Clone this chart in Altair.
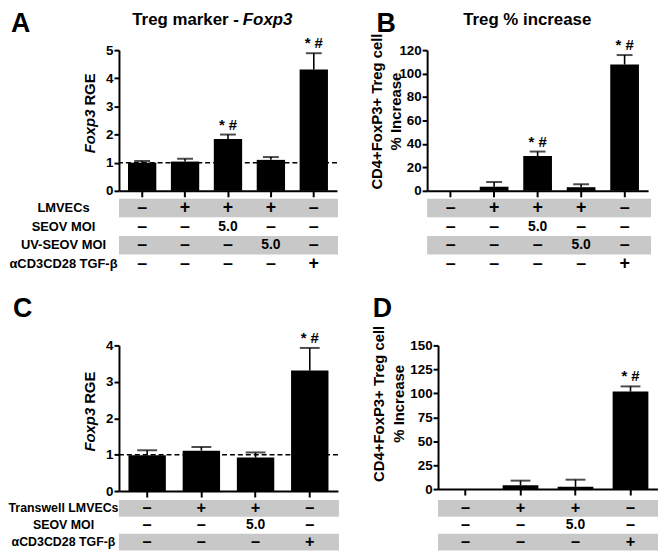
import altair as alt
import pandas as pd

SANS = "Liberation Sans"

# ---------------- data ----------------
A_groups = ["a1", "a2", "a3", "a4", "a5"]
A_mean = [1.00, 1.04, 1.84, 1.10, 4.31]
A_upper = [1.06, 1.14, 2.00, 1.20, 4.89]
A_sig = ["", "", "* #", "", "* #"]
A_rows = ["LMVECs", "SEOV MOI", "UV-SEOV MOI", "αCD3CD28 TGF-β"]
A_cells = [["–", "+", "+", "+", "–"],
           ["–", "–", "5.0", "–", "–"],
           ["–", "–", "–", "5.0", "–"],
           ["–", "–", "–", "–", "+"]]

B_groups = ["b1", "b2", "b3", "b4", "b5"]
B_mean = [0.0, 3.5, 29.6, 3.1, 107.7]
B_upper = [None, 7.5, 33.5, 5.6, 115.8]
B_sig = ["", "", "* #", "", "* #"]

C_groups = ["c1", "c2", "c3", "c4"]
C_mean = [0.98, 1.11, 0.92, 3.31]
C_upper = [1.12, 1.21, 1.06, 3.93]
C_sig = ["", "", "", "* #"]
C_rows = ["Transwell LMVECs", "SEOV MOI", "αCD3CD28 TGF-β"]
C_cells = [["–", "+", "+", "–"],
           ["–", "–", "5.0", "–"],
           ["–", "–", "–", "+"]]

D_groups = ["d1", "d2", "d3", "d4"]
D_mean = [0.0, 4.0, 2.4, 101.8]
D_upper = [None, 8.8, 9.8, 107.2]
D_sig = ["", "", "", "* #"]

ONE = pd.DataFrame({"k": [0]})


def txt(text, x, y, size, style="normal", align="center",
        baseline="top", angle=0, dx=0):
    return alt.Chart(ONE).mark_text(
        text=text, font=SANS, fontSize=size, fontWeight="bold", fontStyle=style,
        align=align, baseline=baseline, angle=angle, dx=dx, color="black"
    ).encode(x=alt.value(x), y=alt.value(y))


def panel(groups, mean, upper, sig, ymax, ystep, W, H, pi, po, cap,
          row_labels, cells, row_range, label_x, label_size, sym_size,
          ref_line, annots, rect_extra):
    df = pd.DataFrame({"g": groups, "m": mean, "u": upper, "s": sig})
    xenc = alt.X("g:N", sort=groups, title=None,
                 scale=alt.Scale(paddingInner=pi, paddingOuter=po),
                 axis=alt.Axis(labels=False, ticks=True, tickSize=6, title=None))
    ys = alt.Scale(domain=[0, ymax], nice=False, zero=True)
    ya = alt.Axis(values=list(range(0, ymax + 1, ystep)), title=None, tickSize=5)
    base = alt.Chart(df)
    bars = base.mark_bar(color="black").encode(
        x=xenc, y=alt.Y("m:Q", scale=ys, axis=ya))
    errs = base.transform_filter("isValid(datum.u)").mark_rule(
        color="black", strokeWidth=1.6).encode(
        x=xenc, y=alt.Y("m:Q", scale=ys, axis=ya), y2="u:Q")
    caps = base.transform_filter("isValid(datum.u)").mark_tick(
        color="black", thickness=2, size=cap).encode(
        x=xenc, y=alt.Y("u:Q", scale=ys, axis=ya))
    sigt = base.transform_filter("datum.s != ''").mark_text(
        font=SANS, fontSize=15, fontWeight="bold", dy=-5, baseline="alphabetic",
        color="black").encode(
        x=xenc, y=alt.Y("u:Q", scale=ys, axis=ya), text="s:N")
    qlayers = [bars, errs, caps, sigt]
    if ref_line is not None:
        qlayers.append(
            alt.Chart(pd.DataFrame({"v": [ref_line]})).mark_rule(
                color="black", strokeWidth=1.5, strokeDash=[5, 3]).encode(
                y=alt.Y("v:Q", scale=ys, axis=ya)))
    quant = alt.layer(*qlayers)

    keys = ["r%d" % i for i in range(len(cells))]
    rs = alt.Scale(type="band", domain=keys, range=row_range,
                   paddingInner=0, paddingOuter=0)
    tdf = pd.DataFrame([{"r": keys[i], "g": groups[j], "t": cells[i][j]}
                        for i in range(len(cells)) for j in range(len(groups))])
    shade = pd.DataFrame({"r": [keys[i] for i in range(0, len(keys), 2)]})
    rects = alt.Chart(shade).mark_rect(color="#c8c8c8").encode(
        y=alt.Y("r:N", scale=rs, axis=None),
        x=alt.value(0), x2=alt.value(W + rect_extra))
    syms = alt.Chart(tdf).transform_filter("datum.t != '5.0'").mark_text(
        font=SANS, fontSize=sym_size, fontWeight="bold", color="black",
        baseline="middle").encode(
        x=xenc, y=alt.Y("r:N", scale=rs, axis=None), text="t:N")
    nums = alt.Chart(tdf).transform_filter("datum.t == '5.0'").mark_text(
        font=SANS, fontSize=14, fontWeight="bold", color="black",
        baseline="middle").encode(
        x=xenc, y=alt.Y("r:N", scale=rs, axis=None), text="t:N")
    tl = [rects, syms, nums]
    if row_labels is not None:
        ldf = pd.DataFrame({"r": keys, "lab": row_labels})
        tl.append(alt.Chart(ldf).mark_text(
            font=SANS, fontSize=label_size, fontWeight="bold", color="black",
            baseline="middle", align="center").encode(
            x=alt.value(label_x), y=alt.Y("r:N", scale=rs, axis=None),
            text="lab:N"))
    table = alt.layer(*tl)
    return alt.layer(quant, table, *annots).resolve_scale(y="independent").properties(
        width=W, height=H)


# ---------- panel A ----------
HT = 142
pA = panel(A_groups, A_mean, A_upper, A_sig, 5, 1, 220, HT, 0.34, 0.21, 16,
           A_rows, A_cells, [150, 225], -56, 13, 18, 1.0,
           [txt("A", -109, -39, 27, align="left"),
            txt("Treg marker -", 121, -38, 17, align="right"),
            txt("Foxp3", 121, -38, 17, style="italic", align="left", dx=4),
            txt("Foxp3", -29, 60, 15, style="italic", align="right",
                baseline="middle", angle=270),
            txt("RGE", -29, 60, 15, align="left", baseline="middle",
                angle=270, dx=4)], 1)

# ---------- panel B ----------
pB = panel(B_groups, B_mean, B_upper, B_sig, 120, 20, 223, HT, 0.34, 0.21, 16,
           None, A_cells, [150, 225], 0, 13, 18, None,
           [txt("B", -51, -39, 27, align="left"),
            txt("Treg % increase", 101, -38, 17),
            txt("CD4+FoxP3+ Treg cell", -51, 62, 15, baseline="middle",
                angle=270),
            txt("% Increase", -31, 62, 15, baseline="middle", angle=270)], 3)

# ---------- panel C ----------
pC = panel(C_groups, C_mean, C_upper, C_sig, 4, 1, 221, 147, 0.31, 0.175, 20,
           C_rows, C_cells, [156, 207], -56, 12.5, 16.5, 1.0,
           [txt("C", -107, -50, 27, align="left"),
            txt("Foxp3", -29, 63, 15, style="italic", align="right",
                baseline="middle", angle=270),
            txt("RGE", -29, 63, 15, align="left", baseline="middle",
                angle=270, dx=4)], 1)

# ---------- panel D ----------
pD = panel(D_groups, D_mean, D_upper, D_sig, 150, 25, 222, 145, 0.35, 0.175, 20,
           None, C_cells, [156, 207], 0, 13, 16.5, None,
           [txt("D", -66, -50, 27, align="left"),
            txt("CD4+FoxP3+ Treg cell", -60, 59, 15, baseline="middle",
                angle=270),
            txt("% Increase", -39, 59, 15, baseline="middle", angle=270)], 0)

top = alt.hconcat(pA, pB, spacing=31)
bottom = alt.hconcat(pC, pD, spacing=32)
chart = alt.vconcat(top, bottom, spacing=22).properties(
    padding=0, background="white"
).configure_view(stroke=None).configure_axis(
    labelFont=SANS, labelFontSize=13.5, labelFontWeight="bold",
    labelColor="black", labelPadding=1, domainColor="black", domainWidth=2,
    tickColor="black", tickWidth=2, grid=False
)

chart.save("out.html", embed_options={"renderer": "svg", "actions": False})
